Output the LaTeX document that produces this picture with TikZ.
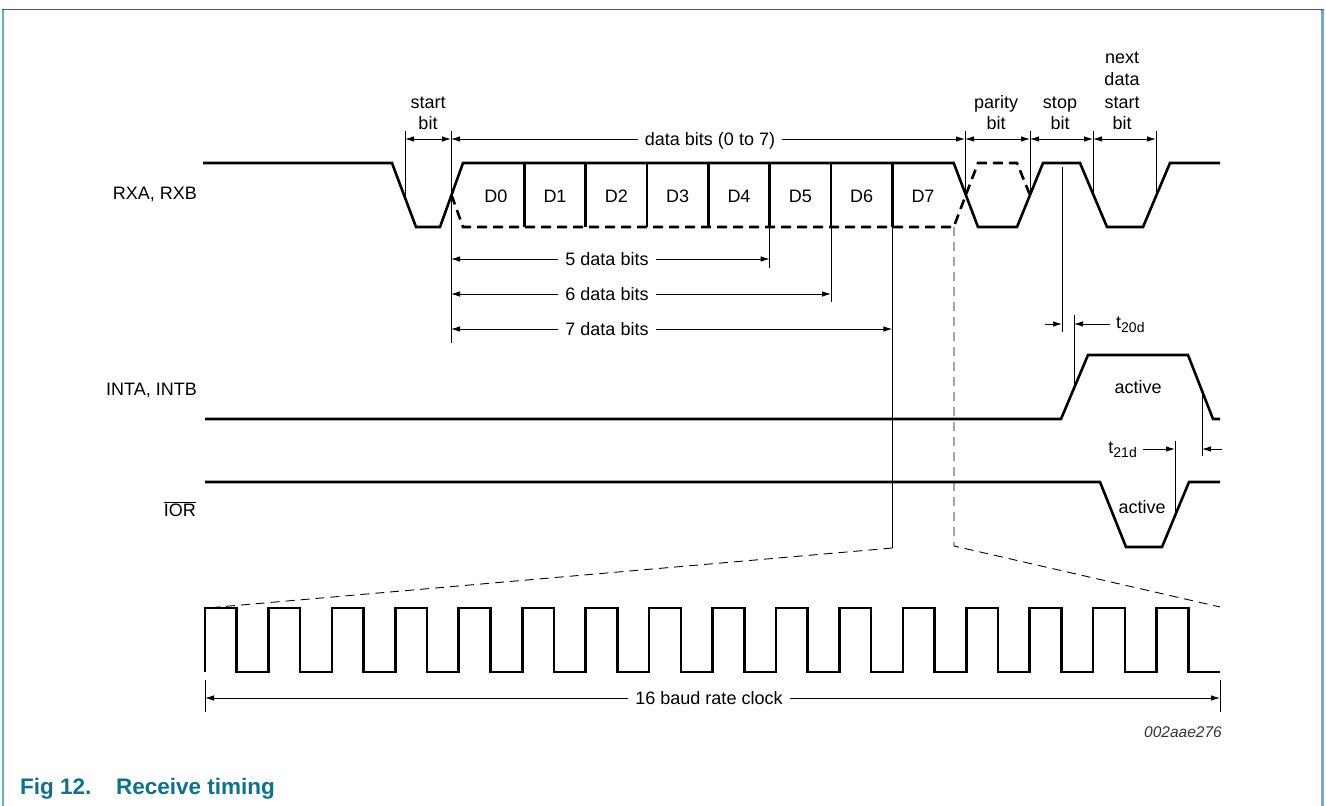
\documentclass[tikz,border=0pt]{standalone}
\usepackage{fontspec}
\setmainfont{Liberation Sans}
\usetikzlibrary{arrows.meta}
\definecolor{framedark}{HTML}{1A6E84}
\definecolor{framelight}{HTML}{62B2C2}
\definecolor{capcol}{HTML}{11708C}
\begin{document}
\begin{tikzpicture}[x=1pt,y=-1pt,
  sig/.style={line width=2.6pt,line join=miter},
  sigd/.style={line width=2.6pt,dash pattern=on 10pt off 6pt},
  thinl/.style={line width=0.9pt},
  projd/.style={line width=0.9pt,dash pattern=on 9pt off 6pt},
  tipd/.style={line width=0.9pt,-{Latex[length=9pt,width=5.5pt]}},
  dimd/.style={line width=0.9pt,{Latex[length=9pt,width=5.5pt]}-{Latex[length=9pt,width=5.5pt]}},
  lbl/.style={font=\fontsize{18}{22}\selectfont,inner sep=0pt,anchor=base},
  dimlbl/.style={lbl,fill=white,inner xsep=7pt,inner ysep=2pt},
  caplbl/.style={font=\fontsize{22.5}{26}\selectfont\bfseries,text=capcol,inner sep=0pt,anchor=base west}
]
\useasboundingbox (0,0) rectangle (1326,806);
\fill[white] (0,0) rectangle (1326,806);
% frame
\draw[framelight,line width=2pt] (2.5,9.5) -- (2.5,806);
\draw[framelight,line width=2.5pt] (1322.5,9.5) -- (1322.5,806);
\draw[framedark,line width=1.6pt] (1.5,9.5) -- (1323.5,9.5);

% signal labels
\node[lbl,anchor=base east] (rxl) at (197,199) {RXA, RXB};
\node[lbl,anchor=base east] (intl) at (197,395) {INTA, INTB};
\node[lbl,anchor=base east] (iorl) at (196,516) {$\overline{\hbox{IOR}}$};

% RX waveform
\draw[sig] (203,163) -- (392,163) -- (416,227) -- (440,227) -- (463,163) -- (953.7,163) -- (978,227) -- (1017,227) -- (1043,163) -- (1080,163) -- (1107,227) -- (1143,227) -- (1170,163) -- (1220,163);
\draw[sigd] (451.5,195) -- (463,227) -- (953.7,227) -- (978,163) -- (1017,163) -- (1030,195);
\foreach \x in {524.3,585.7,647,708.3,769.7,831,892.3}
  \draw[sig] (\x,163) -- (\x,227);
\foreach \i/\x in {0/496,1/555,2/616.3,3/677.7,4/739,5/800.3,6/861.7,7/923}
  \node[lbl] (d\i) at (\x,202) {D\i};

% bit markers
\draw[thinl] (405,131) -- (405,197);
\draw[thinl] (451,131) -- (451,343);
\draw[thinl] (965,131) -- (965,196);
\draw[thinl] (1030,131) -- (1030,196);
\draw[thinl] (1093,131) -- (1093,195);
\draw[thinl] (1156,131) -- (1156,197);
\draw[thinl] (769.7,227) -- (769.7,268);
\draw[thinl] (831,227) -- (831,302);
\draw[thinl] (892.3,227) -- (892.3,548);
\draw[projd] (954,227) -- (954,546) -- (1220,607);
\draw[projd] (892.3,548) -- (207,608);

% top labels
\node[lbl] (st1) at (428,108) {start};
\node[lbl] (st2) at (428,129) {bit};
\node[lbl] (pa1) at (996,108) {parity};
\node[lbl] (pa2) at (996,129) {bit};
\node[lbl] (sp1) at (1060,108) {stop};
\node[lbl] (sp2) at (1060,129) {bit};
\node[lbl] (nx1) at (1122,63) {next};
\node[lbl] (nx2) at (1122,85) {data};
\node[lbl] (nx3) at (1122,108) {start};
\node[lbl] (nx4) at (1122,129) {bit};

% dimension arrows
\draw[dimd] (405,139) -- (451,139);
\draw[dimd] (451,139) -- (965,139);
\node[dimlbl] (db) at (710,145) {data bits (0 to 7)};
\draw[dimd] (965,139) -- (1030,139);
\draw[dimd] (1030,139) -- (1093,139);
\draw[dimd] (1093,139) -- (1156,139);

\draw[dimd] (451,259) -- (769.7,259);
\node[dimlbl] (b5) at (607,265) {5 data bits};
\draw[dimd] (451,294) -- (831,294);
\node[dimlbl] (b6) at (607,300) {6 data bits};
\draw[dimd] (451,329) -- (892.3,329);
\node[dimlbl] (b7) at (607,335) {7 data bits};

% INTA waveform
\draw[sig] (205,419) -- (1061,419) -- (1088,355) -- (1188,355) -- (1213,419) -- (1220,419);
\node[lbl] (act1) at (1138,393) {active};

% IOR waveform
\draw[sig] (205,482) -- (1100,482) -- (1126,547) -- (1162,547) -- (1189,482) -- (1220,482);
\node[lbl] (act2) at (1142,513) {active};

% t20d
\draw[thinl] (1062,167) -- (1062,332);
\draw[thinl] (1074,315) -- (1074,387);
\draw[tipd] (1045,324) -- (1062,324);
\draw[tipd] (1110,324) -- (1074,324);
\node[lbl,anchor=base west] (t20) at (1116,328) {t\raisebox{-4pt}{\fontsize{14}{14}\selectfont 20d}};

% t21d
\draw[thinl] (1175,441) -- (1175,516);
\draw[thinl] (1202,391) -- (1202,456);
\draw[tipd] (1143,449) -- (1175,449);
\draw[tipd] (1222,449) -- (1202,449);
\node[lbl,anchor=base east] (t21) at (1137,453) {t\raisebox{-4pt}{\fontsize{14}{14}\selectfont 21d}};

% clock
\draw[sig] (205,672) \foreach \k in {0,...,15} { -- ++(0,-64) -- ++(31.72,0) -- ++(0,64) -- ++(31.72,0) };
\draw[thinl] (205,680) -- (205,712);
\draw[thinl] (1220,680) -- (1220,712);
\draw[dimd] (205,698) -- (1220,698);
\node[dimlbl] (clk) at (709,704) {16 baud rate clock};

\node[font=\fontsize{15.5}{18}\selectfont\itshape,inner sep=0pt,anchor=base east,text=black!80] (code) at (1222,737) {002aae276};

% caption
\node[caplbl] (fig) at (20,794) {Fig 12.};
\node[caplbl] (cap) at (116,794) {Receive timing};
\end{tikzpicture}
\end{document}
